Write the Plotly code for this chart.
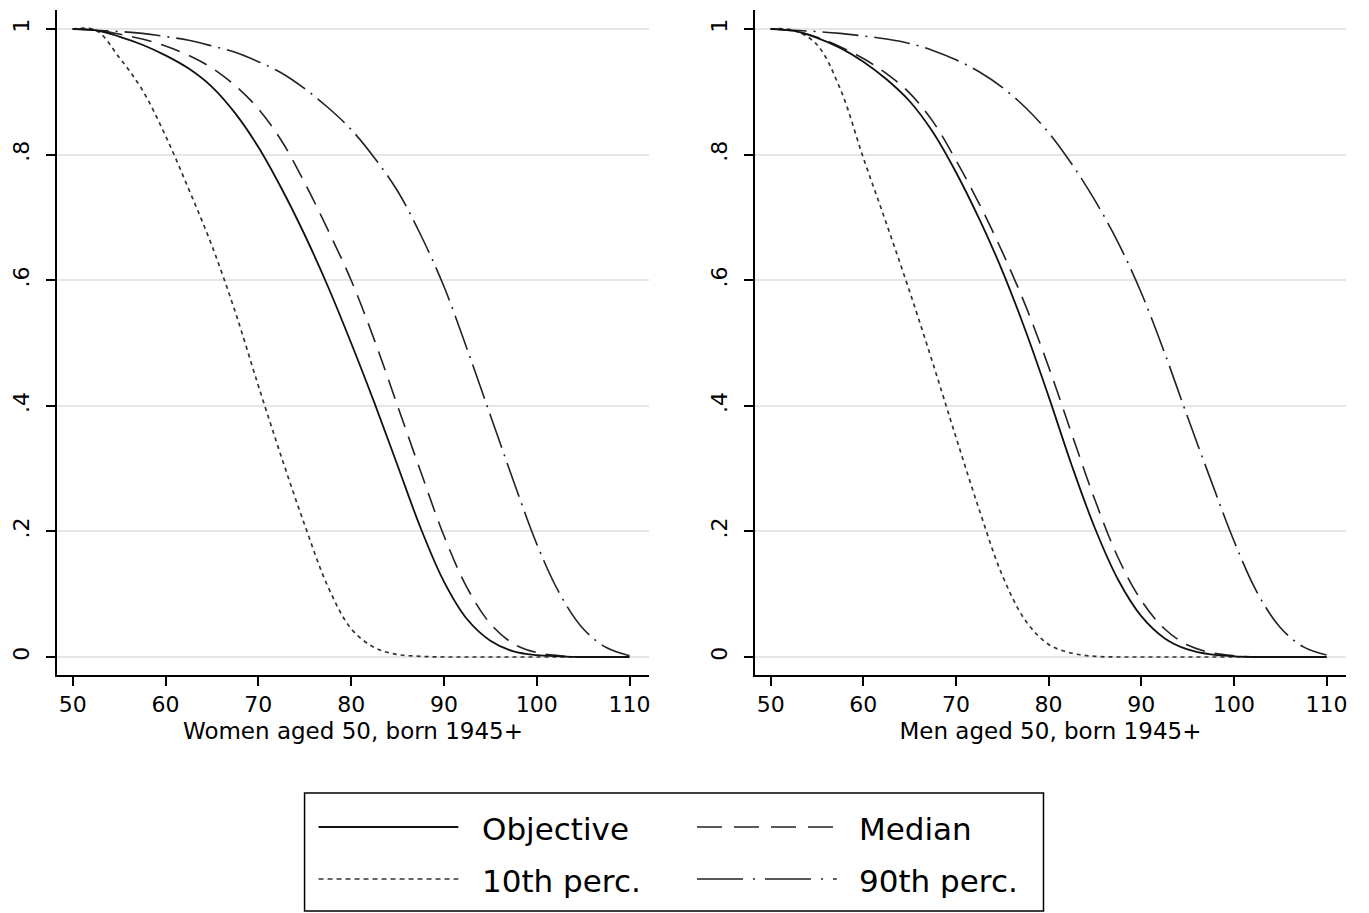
import plotly.graph_objects as go

# ---------------- data ----------------
AGES = [50, 52.5, 55, 57.5, 60, 62.5, 65, 67.5, 70, 72.5, 75, 77.5, 80,
        82.5, 85, 87.5, 90, 92.5, 95, 97.5, 100, 102.5, 105, 107.5, 110]

# Women aged 50, born 1945+
W_OBJECTIVE = [1.0, 0.998, 0.988, 0.975, 0.958, 0.937, 0.908, 0.866, 0.812, 0.746, 0.672, 0.59, 0.50,
               0.405, 0.305, 0.205, 0.12, 0.06, 0.026, 0.009, 0.003, 0.001, 0.0, 0.0, 0.0]
W_MEDIAN = [1.0, 0.998, 0.992, 0.984, 0.973, 0.958, 0.938, 0.91, 0.873, 0.822, 0.755, 0.68, 0.60,
            0.505, 0.40, 0.295, 0.193, 0.11, 0.053, 0.021, 0.007, 0.002, 0.0, 0.0, 0.0]
W_P10 = [1.0, 0.998, 0.955, 0.903, 0.83, 0.745, 0.655, 0.55, 0.432, 0.318, 0.21, 0.112, 0.045,
         0.015, 0.004, 0.001, 0.0, 0.0, 0.0, 0.0, 0.0, 0.0, 0.0, 0.0, 0.0]
W_P90 = [1.0, 0.998, 0.996, 0.993, 0.988, 0.982, 0.973, 0.963, 0.948, 0.93, 0.905, 0.875, 0.84,
         0.795, 0.742, 0.672, 0.59, 0.49, 0.385, 0.28, 0.18, 0.10, 0.045, 0.015, 0.002]

# Men aged 50, born 1945+
M_OBJECTIVE = [1.0, 0.997, 0.986, 0.97, 0.948, 0.92, 0.885, 0.836, 0.772, 0.698, 0.615, 0.52, 0.415,
               0.305, 0.205, 0.123, 0.065, 0.03, 0.012, 0.004, 0.001, 0.0, 0.0, 0.0, 0.0]
M_MEDIAN = [1.0, 0.997, 0.987, 0.972, 0.953, 0.929, 0.898, 0.853, 0.791, 0.722, 0.645, 0.56, 0.462,
            0.355, 0.25, 0.158, 0.09, 0.045, 0.019, 0.007, 0.002, 0.0, 0.0, 0.0, 0.0]
M_P10 = [1.0, 0.998, 0.975, 0.905, 0.795, 0.69, 0.582, 0.468, 0.35, 0.235, 0.13, 0.058, 0.02,
         0.006, 0.001, 0.0, 0.0, 0.0, 0.0, 0.0, 0.0, 0.0, 0.0, 0.0, 0.0]
M_P90 = [1.0, 0.998, 0.996, 0.993, 0.989, 0.984, 0.977, 0.966, 0.951, 0.932, 0.907, 0.875, 0.835,
         0.785, 0.727, 0.66, 0.58, 0.485, 0.382, 0.282, 0.185, 0.103, 0.047, 0.016, 0.003]

SERIES_NAMES = ["Objective", "Median", "10th perc.", "90th perc."]
PANEL_TITLES = ["Women aged 50, born 1945+", "Men aged 50, born 1945+"]
X_TICKS = [50, 60, 70, 80, 90, 100, 110]
Y_TICKS = [0, 0.2, 0.4, 0.6, 0.8, 1]
Y_TICK_LABELS = ["0", ".2", ".4", ".6", ".8", "1"]

# ---------------- styling ----------------
W, H = 1369, 913
OFF = 8  # page body margin of the browser
FONT = "DejaVu Sans"
STYLES = {
    "Objective": dict(color="#111111", width=1.8, dash="solid"),
    "Median": dict(color="#222222", width=1.6, dash="20px,10px"),
    "10th perc.": dict(color="#333333", width=1.7, dash="4px,4px"),
    "90th perc.": dict(color="#222222", width=1.6, dash="36px,7px,2px,7px"),
}
LEGEND_DASH = {
    "Objective": "solid",
    "Median": "25px,12px",
    "10th perc.": "5px,4px",
    "90th perc.": "46px,10px,2px,10px",
}

panels = [
    [W_OBJECTIVE, W_MEDIAN, W_P10, W_P90],
    [M_OBJECTIVE, M_MEDIAN, M_P10, M_P90],
]

fig = go.Figure()
for p, series in enumerate(panels):
    xa = "x" if p == 0 else "x2"
    ya = "y" if p == 0 else "y2"
    order = [2, 3, 1, 0]  # objective drawn last, on top
    for i in order:
        name = SERIES_NAMES[i]
        fig.add_trace(go.Scatter(
            x=AGES, y=series[i], mode="lines", name=name,
            line=dict(shape="spline", smoothing=1.0, **STYLES[name]),
            xaxis=xa, yaxis=ya, showlegend=False, hoverinfo="skip",
        ))


def px2x(px):
    return (px - OFF) / W


def px2y(py):
    return 1 - (py - OFF) / H


x_dom = [[px2x(57), px2x(650)], [px2x(756), px2x(1348)]]
y_dom = [px2y(675), px2y(10)]

axis_common_x = dict(
    range=[48.3, 112.1], tickmode="array", tickvals=X_TICKS,
    ticks="outside", ticklen=9, tickwidth=2, tickcolor="black",
    showline=True, linecolor="black", linewidth=2, showgrid=False, zeroline=False,
    tickfont=dict(family=FONT, size=22, color="black"),
    title=dict(font=dict(family=FONT, size=23, color="black"), standoff=6),
)
axis_common_y = dict(
    range=[-0.0287, 1.0303], tickmode="array", tickvals=Y_TICKS, ticktext=Y_TICK_LABELS,
    ticks="outside", ticklen=9, tickwidth=2, tickcolor="black", tickangle=-90,
    showline=True, linecolor="black", linewidth=2,
    showgrid=True, gridcolor="#e6e6e6", gridwidth=1.5, zeroline=False,
    tickfont=dict(family=FONT, size=22, color="black"),
    ticklabelstandoff=8,
)

fig.update_layout(
    width=W, height=H,
    margin=dict(l=0, r=0, t=0, b=0),
    paper_bgcolor="white", plot_bgcolor="white",
    showlegend=False,
    xaxis=dict(domain=x_dom[0], anchor="y", **axis_common_x),
    yaxis=dict(domain=y_dom, anchor="x", **axis_common_y),
    xaxis2=dict(domain=x_dom[1], anchor="y2", **axis_common_x),
    yaxis2=dict(domain=y_dom, anchor="x2", **axis_common_y),
)
fig.layout.xaxis.title.text = PANEL_TITLES[0]
fig.layout.xaxis2.title.text = PANEL_TITLES[1]

# ---------------- custom legend (box, samples, labels) ----------------
shapes = [dict(type="rect", xref="paper", yref="paper",
               x0=px2x(305), x1=px2x(1045), y0=px2y(911), y1=px2y(793),
               line=dict(color="black", width=1.5), fillcolor="rgba(0,0,0,0)")]
annotations = []
legend_slots = [  # (sample x0, sample x1, text x, row y) in page pixels
    (319, 459, 481, 827),
    (698, 838, 858, 827),
    (319, 459, 481, 879),
    (698, 838, 858, 879),
]
for name, (sx0, sx1, tx, ry) in zip(SERIES_NAMES, legend_slots):
    st = STYLES[name]
    shapes.append(dict(type="line", xref="paper", yref="paper",
                       x0=px2x(sx0), x1=px2x(sx1), y0=px2y(ry), y1=px2y(ry),
                       line=dict(color=st["color"], width=st["width"], dash=LEGEND_DASH[name])))
    annotations.append(dict(xref="paper", yref="paper", x=px2x(tx), y=px2y(ry + 2),
                            text=name, showarrow=False, xanchor="left", yanchor="middle",
                            font=dict(family=FONT, size=31, color="black")))
fig.update_layout(shapes=shapes, annotations=annotations)

fig.write_html("out.html")
